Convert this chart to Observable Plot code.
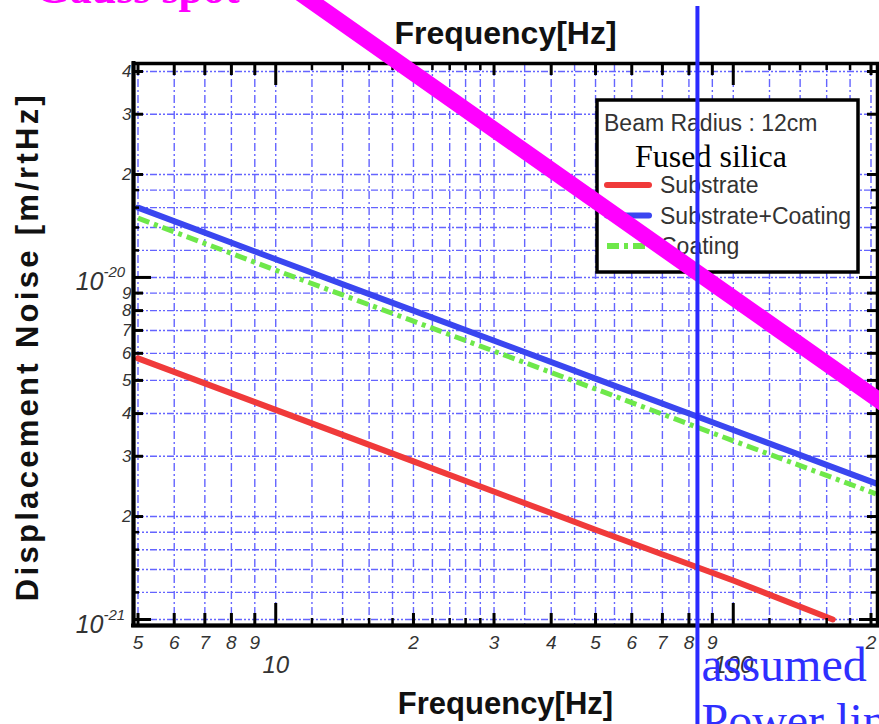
<!DOCTYPE html>
<html><head><meta charset="utf-8">
<script src="https://cdn.jsdelivr.net/npm/d3@7"></script>
<script src="https://cdn.jsdelivr.net/npm/@observablehq/plot@0.6"></script>
<style>html,body{margin:0;padding:0;background:#fff;overflow:hidden}#chart svg{display:block}</style>
</head><body><div id="chart"></div>
<script>
// ---- data ----
const freqSub = [5, 10, 20, 50, 100, 165];
const substrate = [5.8e-21, 4.1e-21, 2.9e-21, 1.83e-21, 1.3e-21, 1.0e-21];
const freqCoat = [5, 10, 20, 50, 100, 205];
const substrateCoating = [1.6e-20, 1.13e-20, 8.0e-21, 5.06e-21, 3.58e-21, 2.5e-21];
const coating = [1.49e-20, 1.05e-20, 7.45e-21, 4.72e-21, 3.33e-21, 2.33e-21];
const gaussFreq = [10, 220];
const gaussSpot = [7.6e-20, 4.15e-21];
const powerLineFreq = [83.5];

const seriesNames = ["Substrate", "Substrate+Coating", "Coating"];
const seriesColors = ["#f03a3a", "#3a46f0", "#6ee84a"];
const legendTitle = "Beam Radius : 12cm";
const legendSubtitle = "Fused silica";
const xTitle = "Frequency[Hz]";
const yTitle = "Displacement Noise [m/rtHz]";

const xGrid = [5,6,7,8,9,10,12,14,16,18,20,22,24,26,28,30,35,40,45,50,55,60,70,80,90,100,120,140,160,180,200];
const yGrid = [1e-21,1.2e-21,1.4e-21,1.6e-21,1.8e-21,2e-21,3e-21,4e-21,5e-21,6e-21,7e-21,8e-21,9e-21,
               1e-20,1.2e-20,1.4e-20,1.6e-20,1.8e-20,2e-20,3e-20,4e-20];
const xLabelTicks = [5,6,7,8,9,20,30,40,50,60,70,80,90,200];
const xLabelText = ["5","6","7","8","9","2","3","4","5","6","7","8","9","2"];
const xSmallTicks = [12,14,16,18,22,24,26,28,120,140,160,180];
const xMajorTicks = [10,100];
const xMajorText = ["10","100"];
const yLabelTicks = [2e-21,3e-21,4e-21,5e-21,6e-21,7e-21,8e-21,9e-21,2e-20,3e-20,4e-20];
const yLabelText = ["2","3","4","5","6","7","8","9","2","3","4"];
const ySmallTicks = [1.2e-21,1.4e-21,1.6e-21,1.8e-21,1.2e-20,1.4e-20,1.6e-20,1.8e-20];
const yMajorTicks = [1e-21,1e-20];
const yMajorExp = ["-21","-20"];

// ---- layout ----
const W = 879, H = 724;
const mL = 133, mR = 2, mT = 63, mB = 99;
const fw = W - mL - mR, fh = H - mT - mB;
const sans = "Liberation Sans, Arial, sans-serif";
const serif = "Liberation Serif, Times New Roman, serif";
const gridColor = "#6464ff";

const rows = (xs, ys) => xs.map((x, i) => ({x, y: ys[i]}));

function legendMark() {
  const g = d3.create("svg:g").attr("text-anchor", "start");
  const bx = 597, by = 100, bw = 261, bh = 172;
  g.append("rect").attr("x", bx).attr("y", by).attr("width", bw).attr("height", bh)
    .attr("fill", "white").attr("stroke", "black").attr("stroke-width", 3.5);
  g.append("text").attr("x", bx + 7).attr("y", by + 31).attr("font-family", sans)
    .attr("font-size", 23).attr("fill", "#333").text(legendTitle);
  g.append("text").attr("x", bx + 38).attr("y", by + 67).attr("font-family", serif)
    .attr("font-size", 32).attr("fill", "black").text(legendSubtitle);
  seriesNames.forEach((name, i) => {
    const yy = by + 85 + i * 30.5;
    g.append("line").attr("x1", bx + 10).attr("x2", bx + 52).attr("y1", yy).attr("y2", yy)
      .attr("stroke", seriesColors[i]).attr("stroke-width", 6)
      .attr("stroke-linecap", i === 2 ? "butt" : "round")
      .attr("stroke-dasharray", i === 2 ? "12,5,4,5" : null);
    g.append("text").attr("x", bx + 63).attr("y", yy + 8).attr("font-family", sans)
      .attr("font-size", 23).attr("fill", "#333").text(name);
  });
  return g.node();
}

const tickStyle = {stroke: "black", strokeWidth: 3};
const tickText = {fontStyle: "italic", fontFamily: sans, fill: "#333"};

const chart = Plot.plot({
  width: W, height: H,
  marginLeft: mL, marginRight: mR, marginTop: mT, marginBottom: mB,
  style: {background: "white", overflow: "visible"},
  x: {type: "log", domain: [5, 200], range: [137.5, 870.5], axis: null},
  y: {type: "log", domain: [1e-21, 4e-20], range: [619, 71], axis: null},
  marks: [
    // grid
    Plot.ruleX(xGrid, {stroke: gridColor, strokeWidth: 1.4, strokeDasharray: "8,3,2,3"}),
    Plot.ruleY(yGrid, {stroke: gridColor, strokeWidth: 1.4, strokeDasharray: "7,2,2,2,2,2"}),
    // data
    Plot.line(rows(freqSub, substrate), {x: "x", y: "y", stroke: seriesColors[0], strokeWidth: 6}),
    Plot.line(rows(freqCoat, coating), {x: "x", y: "y", stroke: seriesColors[2], strokeWidth: 5,
      strokeLinecap: "butt", strokeDasharray: "12,5,4,5"}),
    Plot.line(rows(freqCoat, substrateCoating), {x: "x", y: "y", stroke: seriesColors[1], strokeWidth: 6}),
    // frame and ticks
    Plot.frame({stroke: "black", strokeWidth: 3.5}),
    Plot.ruleX([5], {stroke: "black", strokeWidth: 4, dx: -4.5, insetTop: -2, insetBottom: -2}),
    Plot.ruleY([1e-21], {stroke: "black", strokeWidth: 4, dy: 6, insetLeft: -2, insetRight: -2}),
    Plot.ruleX(xLabelTicks, {...tickStyle, insetTop: fh - 12}),
    Plot.ruleX(xSmallTicks, {...tickStyle, strokeWidth: 2.5, insetTop: fh - 7}),
    Plot.ruleX(xMajorTicks, {...tickStyle, insetTop: fh - 22}),
    Plot.ruleX(xLabelTicks, {...tickStyle, insetBottom: fh - 12}),
    Plot.ruleX(xSmallTicks, {...tickStyle, strokeWidth: 2.5, insetBottom: fh - 7}),
    Plot.ruleX(xMajorTicks, {...tickStyle, insetBottom: fh - 22}),
    Plot.ruleY(yLabelTicks, {...tickStyle, insetRight: fw - 10}),
    Plot.ruleY(ySmallTicks, {...tickStyle, strokeWidth: 2.5, insetRight: fw - 6}),
    Plot.ruleY(yMajorTicks, {...tickStyle, insetRight: fw - 18}),
    Plot.ruleY(yLabelTicks, {...tickStyle, insetLeft: fw - 10}),
    Plot.ruleY(ySmallTicks, {...tickStyle, strokeWidth: 2.5, insetLeft: fw - 6}),
    Plot.ruleY(yMajorTicks, {...tickStyle, insetLeft: fw - 18}),
    // tick labels
    Plot.text(xLabelTicks, {x: d => d, text: (d, i) => xLabelText[i], frameAnchor: "bottom", lineAnchor: "bottom",
      textAnchor: "middle", dy: 23, fontSize: 19, ...tickText}),
    Plot.text(xMajorTicks, {x: d => d, text: (d, i) => xMajorText[i], frameAnchor: "bottom", lineAnchor: "bottom",
      textAnchor: "middle", dy: 47, fontSize: 24, ...tickText}),
    Plot.text(yLabelTicks, {y: d => d, text: (d, i) => yLabelText[i], frameAnchor: "left", textAnchor: "end",
      dx: -2, fontSize: 17, ...tickText}),
    Plot.text(yMajorTicks, {y: d => d, text: () => "10", frameAnchor: "left", textAnchor: "end", lineAnchor: "bottom",
      dx: -30, dy: 13, fontSize: 25, ...tickText}),
    Plot.text(yMajorTicks, {y: d => d, text: (d, i) => yMajorExp[i], frameAnchor: "left", textAnchor: "start", lineAnchor: "bottom",
      dx: -30, dy: 0, fontSize: 15, ...tickText}),
    // axis titles
    Plot.text([xTitle], {text: d => d, frameAnchor: "top", lineAnchor: "bottom", dy: -20,
      fontSize: 32, fontWeight: "bold", fontFamily: sans, fill: "#111"}),
    Plot.text([xTitle], {text: d => d, frameAnchor: "bottom", lineAnchor: "bottom", dy: 88,
      fontSize: 31, fontWeight: "bold", fontFamily: sans, fill: "#111"}),
    Plot.text([yTitle], {text: d => d, frameAnchor: "left", textAnchor: "middle", rotate: -90, dx: -105, dy: 2,
      fontSize: 31, fontWeight: "bold", fontFamily: sans, fill: "#111"}),
    // legend
    legendMark,
    // annotations
    Plot.line(rows(gaussFreq, gaussSpot), {x: "x", y: "y", stroke: "#ff00ff", strokeWidth: 16}),
    Plot.ruleX(powerLineFreq, {stroke: "#2a2aff", strokeWidth: 4, insetTop: 6 - mT, insetBottom: -mB}),
    Plot.text(["Gauss spot"], {text: d => d, frameAnchor: "top-left", textAnchor: "start", lineAnchor: "bottom",
      dx: 35 - mL, dy: 2 - mT, fontSize: 44, fontWeight: "bold", fontFamily: serif, fill: "#ff00ff"}),
    Plot.text(powerLineFreq, {x: d => d, text: () => "assumed", frameAnchor: "bottom", textAnchor: "start", lineAnchor: "bottom",
      dx: 4, dy: 680 - (H - mB), fontSize: 48, fontFamily: serif, fill: "#2f2fff"}),
    Plot.text(powerLineFreq, {x: d => d, text: () => "Power line", frameAnchor: "bottom", textAnchor: "start", lineAnchor: "bottom",
      dx: 4, dy: 736 - (H - mB), fontSize: 48, fontFamily: serif, fill: "#2f2fff"})
  ]
});
document.getElementById("chart").appendChild(chart);
d3.select(chart).selectAll("text").filter(function () { return this.textContent === yTitle; })
  .style("letter-spacing", "3.3px");
</script></body></html>
